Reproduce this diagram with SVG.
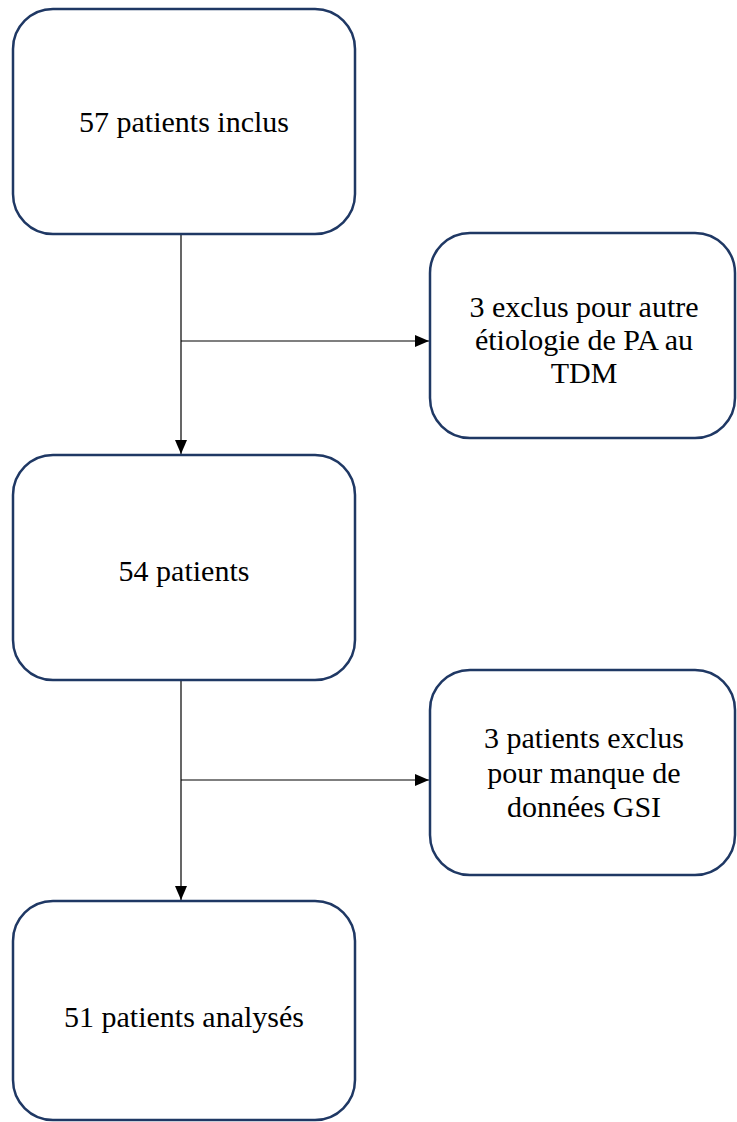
<svg xmlns="http://www.w3.org/2000/svg" width="737" height="1122" viewBox="0 0 737 1122">
<style>
.box{fill:#fff;stroke:#1f3864;stroke-width:2.5}
.lbl{font-size:30px;fill:#000;text-anchor:middle}
.con{stroke:#000;stroke-width:1.2;fill:none}
</style>
<defs>
<marker id="arr" markerWidth="14" markerHeight="12" refX="14" refY="6" orient="auto" markerUnits="userSpaceOnUse">
<path d="M0,0 L14,6 L0,12 Z" fill="#000"/>
</marker>
</defs>
<rect width="737" height="1122" fill="#fff"/>
<g id="connectors">
<line class="con" x1="181" y1="234" x2="181" y2="454" marker-end="url(#arr)"/>
<line class="con" x1="181" y1="341" x2="429" y2="341" marker-end="url(#arr)"/>
<line class="con" x1="181" y1="680" x2="181" y2="900" marker-end="url(#arr)"/>
<line class="con" x1="181" y1="780" x2="429" y2="780" marker-end="url(#arr)"/>
</g>
<g font-family="Liberation Serif, Times New Roman, DejaVu Serif, serif">
<g id="n1">
<rect class="box" x="13" y="9" width="342" height="225" rx="40"/>
<text class="lbl" x="184" y="132">57 patients inclus</text>
</g>
<g id="n2">
<rect class="box" x="430" y="233" width="305" height="205" rx="40"/>
<text class="lbl" x="584" y="317">3 exclus pour autre</text>
<text class="lbl" x="584" y="350">étiologie de PA au</text>
<text class="lbl" x="584" y="383">TDM</text>
</g>
<g id="n3">
<rect class="box" x="13" y="455" width="342" height="225" rx="40"/>
<text class="lbl" x="184" y="581">54 patients</text>
</g>
<g id="n4">
<rect class="box" x="430" y="670" width="305" height="205" rx="40"/>
<text class="lbl" x="584" y="748">3 patients exclus</text>
<text class="lbl" x="584" y="783">pour manque de</text>
<text class="lbl" x="584" y="817">données GSI</text>
</g>
<g id="n5">
<rect class="box" x="13" y="901" width="342" height="219" rx="40"/>
<text class="lbl" x="184" y="1027">51 patients analysés</text>
</g>
</g>
</svg>
